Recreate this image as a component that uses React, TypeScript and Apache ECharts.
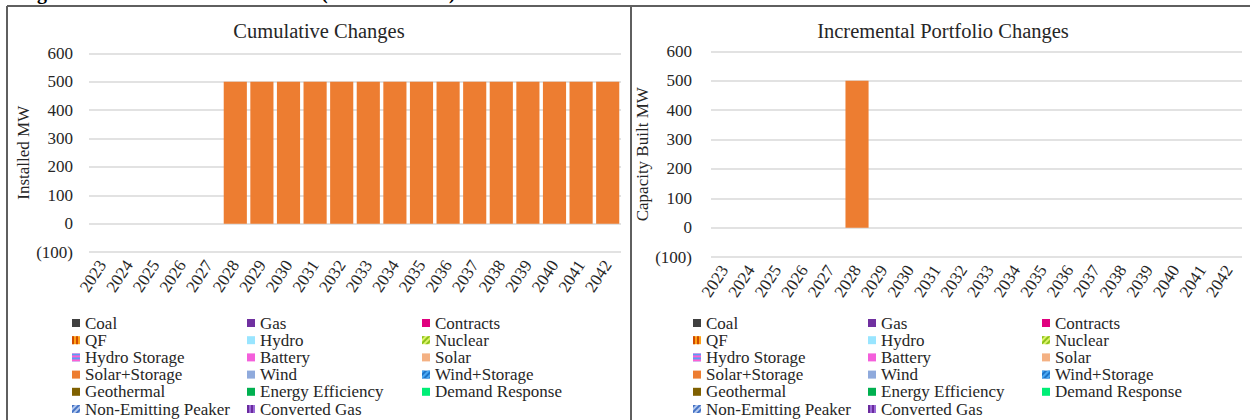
import React, { useEffect, useRef } from "react";
import * as echarts from "echarts";

const years = ["2023","2024","2025","2026","2027","2028","2029","2030","2031","2032","2033","2034","2035","2036","2037","2038","2039","2040","2041","2042"];

const resourceNames = ["Coal","Gas","Contracts","QF","Hydro","Nuclear","Hydro Storage","Battery","Solar","Solar+Storage","Wind","Wind+Storage","Geothermal","Energy Efficiency","Demand Response","Non-Emitting Peaker","Converted Gas"];
const resourceColors = ["#404040","#7030A0","#E0007F","#FFA319","#99E5FF","#DDF26B","#FF5FD2","#F45FDB","#F4B183","#ED7D31","#8FAADC","#1E73C8","#7F6000","#00B050","#00EE76","#B4C9EE","#9A6AD6"];

// cumulative installed MW and incremental MW built, by year
const cumulativeSolarStorage = [0,0,0,0,0,500,500,500,500,500,500,500,500,500,500,500,500,500,500,500];
const incrementalSolarStorage = [0,0,0,0,0,500,0,0,0,0,0,0,0,0,0,0,0,0,0,0];
const noBuild = [0,0,0,0,0,0,0,0,0,0,0,0,0,0,0,0,0,0,0,0];

const legendCol1 = ["Coal","QF","Hydro Storage","Solar+Storage","Geothermal","Non-Emitting Peaker"];
const legendCol2 = ["Gas","Hydro","Battery","Wind","Energy Efficiency","Converted Gas"];
const legendCol3 = ["Contracts","Nuclear","Solar","Wind+Storage","Demand Response"];

const yTicks = { min: -100, max: 600, interval: 100 };

const FONT = "'Liberation Serif', 'Times New Roman', serif";
const TXT = "#262626";

const decals: Record<string, any> = {
  "QF": { symbol: "rect", symbolSize: 1, dashArrayX: [2, 2], dashArrayY: [1, 0], color: "#D04A00" },
  "Nuclear": { symbol: "rect", symbolSize: 1, dashArrayX: [1, 0], dashArrayY: [2, 2], rotation: -Math.PI / 4, color: "#8CC21A" },
  "Hydro Storage": { symbol: "rect", symbolSize: 1, dashArrayX: [1, 0], dashArrayY: [2, 2], color: "#5A9BF5" },
  "Wind+Storage": { symbol: "rect", symbolSize: 1, dashArrayX: [1, 0], dashArrayY: [2, 2], rotation: -Math.PI / 4, color: "#4AA8F2" },
  "Non-Emitting Peaker": { symbol: "rect", symbolSize: 1, dashArrayX: [1, 0], dashArrayY: [2, 2], rotation: -Math.PI / 4, color: "#4472C4" },
  "Converted Gas": { symbol: "rect", symbolSize: 1, dashArrayX: [2, 2], dashArrayY: [1, 0], color: "#6A2A9E" },
};

function makeLegend(data: string[], left: number) {
  return {
    orient: "vertical",
    left,
    top: 314.5,
    padding: 0,
    itemWidth: 8,
    itemHeight: 8,
    itemGap: 0.2,
    icon: "rect",
    selectedMode: false,
    textStyle: { fontFamily: FONT, fontSize: 17, color: TXT, lineHeight: 17 },
    data,
  };
}

const yLabelFmt = (v: number) => (v < 0 ? `(${-v})` : `${v}`);

export default function App() {
  const ref = useRef<HTMLDivElement>(null);
  useEffect(() => {
    if (!ref.current) return;
    const chart = echarts.init(ref.current, null, { renderer: "svg" });

    const grids = [
      { left: 89, right: 629, top: 53.5, bottom: 168, outerBoundsMode: "none" },
      { left: 711, right: 8, top: 51.5, bottom: 163, outerBoundsMode: "none" },
    ];
    const xAxes = [0, 1].map((gi) => ({
      type: "category",
      gridIndex: gi,
      data: years,
      axisLine: { show: false, onZero: false },
      axisTick: { show: false },
      axisLabel: { interval: 0, rotate: 57, margin: 10, fontFamily: FONT, fontSize: 17, color: TXT },
    }));
    const yNames = ["Installed MW", "Capacity Built MW"];
    const yAxes = [0, 1].map((gi) => ({
      type: "value",
      gridIndex: gi,
      min: yTicks.min,
      max: yTicks.max,
      interval: yTicks.interval,
      name: yNames[gi],
      nameLocation: "middle",
      nameGap: gi === 0 ? 57 : 58,
      nameTextStyle: { fontFamily: FONT, fontSize: 17, color: TXT },
      axisLine: { show: false },
      axisTick: { show: false },
      axisLabel: { margin: gi === 0 ? 16 : 19, fontFamily: FONT, fontSize: 17, color: TXT, formatter: yLabelFmt },
      splitLine: { lineStyle: { color: "#D9D9D9", width: 1.5 } },
    }));

    const series: any[] = [];
    [0, 1].forEach((gi) => {
      resourceNames.forEach((name, i) => {
        const src = name === "Solar+Storage" ? (gi === 0 ? cumulativeSolarStorage : incrementalSolarStorage) : noBuild;
        const itemStyle: any = { color: resourceColors[i] };
        if (decals[name]) itemStyle.decal = decals[name];
        series.push({
          type: "bar",
          name,
          xAxisIndex: gi,
          yAxisIndex: gi,
          stack: gi === 0 ? "cum" : "inc",
          barCategoryGap: "13%",
          data: src,
          itemStyle,
        });
      });
    });

    const border = { stroke: "#5F5F5F", lineWidth: 2 };
    const capStyle = { fontFamily: FONT, fontSize: 20, fontWeight: "bold", fill: "#000" };

    chart.setOption({
      animation: false,
      backgroundColor: "#FFFFFF",
      title: [
        { text: "Cumulative Changes", left: 319, top: 20, textAlign: "center", padding: 0, textStyle: { fontFamily: FONT, fontSize: 20.5, fontWeight: "normal", color: TXT } },
        { text: "Incremental Portfolio Changes", left: 943, top: 20, textAlign: "center", padding: 0, textStyle: { fontFamily: FONT, fontSize: 20.5, fontWeight: "normal", color: TXT } },
      ],
      grid: grids,
      xAxis: xAxes,
      yAxis: yAxes,
      legend: [
        makeLegend(legendCol1, 72),
        makeLegend(legendCol2, 247),
        makeLegend(legendCol3, 422),
        makeLegend(legendCol1, 693),
        makeLegend(legendCol2, 868),
        makeLegend(legendCol3, 1042),
      ],
      series,
      graphic: [
        { type: "line", shape: { x1: 7, y1: 6, x2: 1250, y2: 6 }, style: border, silent: true },
        { type: "line", shape: { x1: 7, y1: 6, x2: 7, y2: 420 }, style: border, silent: true },
        { type: "line", shape: { x1: 631, y1: 6, x2: 631, y2: 420 }, style: border, silent: true },
        { type: "text", left: 37, top: -18, style: { text: "g", ...capStyle }, silent: true },
        { type: "text", left: 321, top: -18, style: { text: "(", ...capStyle }, silent: true },
        { type: "text", left: 449, top: -18, style: { text: ")", ...capStyle }, silent: true },
      ],
    });
    return () => chart.dispose();
  }, []);

  return (
    <div style={{ position: "fixed", left: 0, top: 0, width: 1250, height: 420, background: "#fff" }}>
      <div ref={ref} style={{ width: 1250, height: 420 }} />
    </div>
  );
}
